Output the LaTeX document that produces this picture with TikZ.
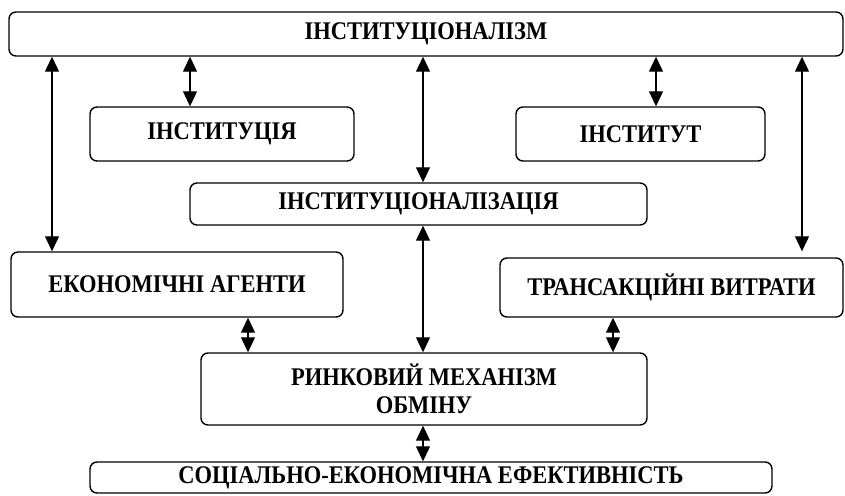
\documentclass[tikz,border=0pt]{standalone}
\usepackage{fontspec}
\usepackage{graphicx}
\setmainfont{Liberation Serif}
\usetikzlibrary{arrows.meta}
\newcommand{\tx}[1]{\scalebox{1}[1.13]{#1}}
\begin{document}
\begin{tikzpicture}[x=1pt,y=-1pt,
  box/.style={draw, line width=1.4pt, rounded corners=7pt, align=center, inner sep=0pt,
    font=\fontsize{22.5}{28}\selectfont\bfseries},
  arr/.style={line width=1.1pt, {Triangle[length=15pt,width=14pt]}-{Triangle[length=15pt,width=14pt]}}]
\useasboundingbox (0,0) rectangle (845,495);
\node[box, minimum width=834pt, minimum height=44pt] (top) at (426,34) {\tx{ІНСТИТУЦІОНАЛІЗМ}};
\node[box, minimum width=264pt, minimum height=54pt] (inst1) at (222,134) {\tx{ІНСТИТУЦІЯ}};
\node[box, minimum width=249pt, minimum height=54pt] (inst2) at (640.5,134) {\tx{ІНСТИТУТ}};
\node[box, minimum width=457pt, minimum height=42pt] (instz) at (418.5,204) {\tx{ІНСТИТУЦІОНАЛІЗАЦІЯ}};
\node[box, minimum width=332pt, minimum height=65pt] (econ) at (177,284.5) {\tx{ЕКОНОМІЧНІ АГЕНТИ}};
\node[box, minimum width=343pt, minimum height=59pt] (trans) at (671.5,287.5) {\tx{ТРАНСАКЦІЙНІ ВИТРАТИ}};
\node[box, minimum width=446pt, minimum height=72pt] (market) at (424,389) {\tx{РИНКОВИЙ МЕХАНІЗМ}\\\tx{ОБМІНУ}};
\node[box, minimum width=682pt, minimum height=31pt] (social) at (431,477.5) {\tx{СОЦІАЛЬНО-ЕКОНОМІЧНА ЕФЕКТИВНІСТЬ}};
\coordinate (c1) at (52,0);
\coordinate (c2) at (190,0);
\coordinate (c3) at (423,0);
\coordinate (c4) at (656,0);
\coordinate (c5) at (802,0);
\coordinate (c6) at (248,0);
\coordinate (c7) at (613,0);
\draw[arr] (c1 |- top.south) -- (c1 |- econ.north);
\draw[arr] (c2 |- top.south) -- (c2 |- inst1.north);
\draw[arr] (c3 |- top.south) -- (c3 |- instz.north);
\draw[arr] (c4 |- top.south) -- (c4 |- inst2.north);
\draw[arr, shorten >=6pt] (c5 |- top.south) -- (c5 |- trans.north);
\draw[arr] (c6 |- econ.south) -- (c6 |- market.north);
\draw[arr] (c3 |- instz.south) -- (c3 |- market.north);
\draw[arr] (c7 |- trans.south) -- (c7 |- market.north);
\draw[arr] (c3 |- market.south) -- (c3 |- social.north);
\end{tikzpicture}
\end{document}
